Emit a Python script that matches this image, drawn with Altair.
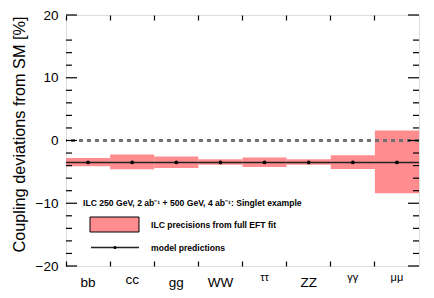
import altair as alt
import pandas as pd

# ---- data ----
cats = ["bb", "cc", "gg", "WW", "ττ", "ZZ", "γγ", "μμ"]
band_hi = [-2.8, -2.25, -2.55, -3.0, -2.7, -3.0, -2.35, 1.6]
band_lo = [-4.1, -4.6, -4.4, -3.86, -4.23, -3.86, -4.55, -8.4]
pred = [-3.5, -3.5, -3.5, -3.5, -3.5, -3.5, -3.5, -3.5]
major_ticks = [-20, -10, 0, 10, 20]
minor_ticks = [-18, -16, -14, -12, -8, -6, -4, -2, 2, 4, 6, 8, 12, 14, 16]
regular_labels = ["bb", "gg", "WW", "ZZ"]
raised_labels = ["cc"]
greek_labels = ["ττ", "γγ", "μμ"]
legend_title = ["ILC 250 GeV, 2 ab⁻¹ + 500 GeV, 4 ab⁻¹: Singlet example"]
legend_band = ["ILC precisions from full EFT fit"]
legend_line = ["model predictions"]
y_title = "Coupling deviations from SM [%]"

W, H = 353, 251
FONT = "Liberation Sans"
PINK = "#ff8c8e"

df = pd.DataFrame({"cat": cats, "hi": band_hi, "lo": band_lo, "pred": pred})
xscale = alt.Scale(domain=cats, paddingInner=0, paddingOuter=0)
yscale = alt.Scale(domain=[-20, 20], nice=False, zero=False)
xenc = alt.X("cat:N", sort=cats, scale=xscale, axis=None)

base = alt.Chart(df)

bands = base.mark_rect(color=PINK).encode(
    x=xenc,
    y=alt.Y("hi:Q", scale=yscale, axis=alt.Axis(
        values=major_ticks, ticks=False, domain=False, grid=False,
        labelFontSize=13.5, labelPadding=8, labelColor="black", labelFont=FONT,
        title=y_title, titleFont=FONT, titleFontSize=16.3, titleFontWeight="normal",
        titleColor="black", titleAngle=-90, titleX=-47, titleY=119,
        titleAlign="center", titleBaseline="middle")),
    y2="lo:Q",
)

zero_line = alt.Chart(pd.DataFrame({"v": [0]})).mark_rule(
    color="#707070", strokeDash=[4, 4], strokeWidth=3).encode(
    y=alt.Y("v:Q", scale=yscale))

pred_line = base.mark_rule(color="#222222", strokeWidth=1.5).encode(
    y=alt.Y("mean(pred):Q", scale=yscale))

pred_pts = base.mark_circle(color="black", size=14, opacity=1).encode(
    x=xenc, y=alt.Y("pred:Q", scale=yscale))

# ticks at category boundaries (top and bottom, inward) via two tick-only axes
def tick_axis(orient):
    return alt.Axis(orient=orient, bandPosition=0, labels=False, domain=False,
                    grid=False, ticks=True, tickSize=5, offset=-5, tickColor="black",
                    tickWidth=1.2, title=None)

xt_bot = base.mark_point(opacity=0).encode(
    x=alt.X("cat:N", sort=cats, scale=xscale, axis=tick_axis("bottom")),
    y=alt.Y("pred:Q", scale=yscale))
xt_top = base.mark_point(opacity=0).encode(
    x=alt.X("cat:N", sort=cats, scale=xscale, axis=tick_axis("top")),
    y=alt.Y("pred:Q", scale=yscale))

maj = alt.Chart(pd.DataFrame({"v": major_ticks}))
mnr = alt.Chart(pd.DataFrame({"v": minor_ticks}))
yt = []
for ch, L in ((maj, 11), (mnr, 6)):
    yt.append(ch.mark_rule(color="black", strokeWidth=1.2).encode(
        y=alt.Y("v:Q", scale=yscale), x=alt.value(0), x2=alt.value(L)))
    yt.append(ch.mark_rule(color="black", strokeWidth=1.2).encode(
        y=alt.Y("v:Q", scale=yscale), x=alt.value(W - L), x2=alt.value(W)))

# category labels
def lab(names, size, ypix):
    return base.transform_filter(
        alt.FieldOneOfPredicate(field="cat", oneOf=names)
    ).mark_text(font=FONT, fontSize=size, color="black", baseline="middle").encode(
        x=xenc, y=alt.value(ypix), text="cat:N")

labs = [lab(regular_labels, 13.5, 268), lab(raised_labels, 13.5, 265), lab(greek_labels, 11, 263)]

# legend
TS = 8.6
lt = alt.Chart(pd.DataFrame({"t": legend_title})).mark_text(
    font=FONT, fontSize=TS, fontWeight="bold", align="left", baseline="middle", color="black"
).encode(x=alt.value(17), y=alt.value(188), text="t:N")
lb_box = alt.Chart(pd.DataFrame({"t": legend_band})).mark_rect(
    fill=PINK, stroke="black", strokeWidth=1).encode(
    x=alt.value(24), x2=alt.value(73), y=alt.value(202), y2=alt.value(217))
lb_txt = alt.Chart(pd.DataFrame({"t": legend_band})).mark_text(
    font=FONT, fontSize=TS, fontWeight="bold", align="left", baseline="middle", color="black"
).encode(x=alt.value(85), y=alt.value(209.5), text="t:N")
ll_line = alt.Chart(pd.DataFrame({"t": legend_line})).mark_rule(
    color="#222222", strokeWidth=1.5).encode(
    x=alt.value(25), x2=alt.value(73), y=alt.value(232.5))
ll_pt = alt.Chart(pd.DataFrame({"t": legend_line})).mark_circle(
    color="black", size=10, opacity=1).encode(x=alt.value(49), y=alt.value(232.5))
ll_txt = alt.Chart(pd.DataFrame({"t": legend_line})).mark_text(
    font=FONT, fontSize=TS, fontWeight="bold", align="left", baseline="middle", color="black"
).encode(x=alt.value(85), y=alt.value(232.5), text="t:N")

chart = alt.layer(
    bands, zero_line, pred_line, pred_pts, xt_bot, xt_top, *yt, *labs,
    lt, lb_box, lb_txt, ll_line, ll_pt, ll_txt
).resolve_axis(x="independent").properties(
    width=W, height=H,
    autosize=alt.AutoSizeParams(type="none"),
    padding={"left": 58, "top": 7, "right": 5, "bottom": 24},
).configure_view(stroke="black", strokeWidth=2).configure(font=FONT)

chart.save("out.html", embed_options={"renderer": "svg", "actions": False})
